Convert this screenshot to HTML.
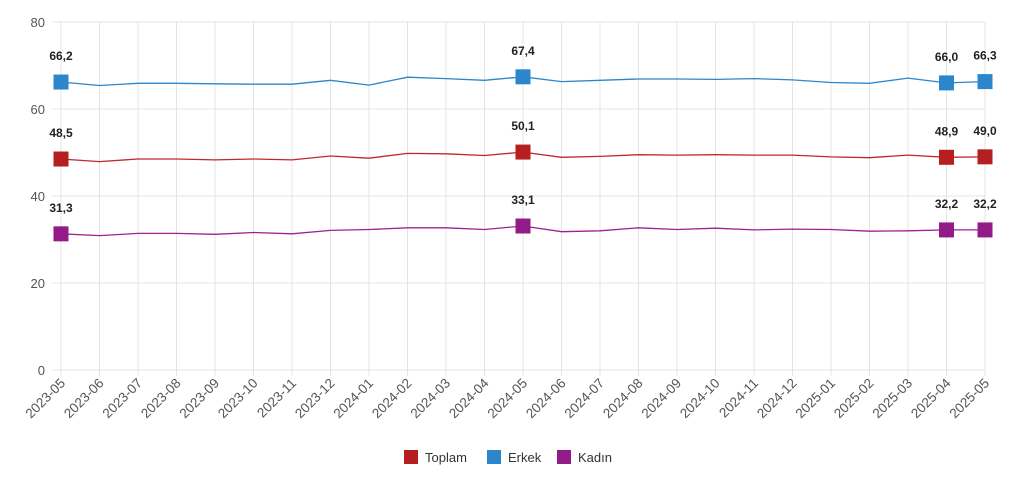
<!DOCTYPE html>
<html><head><meta charset="utf-8"><style>
html,body{margin:0;padding:0;background:#fff;width:1024px;height:481px;overflow:hidden}
svg text{font-family:"Liberation Sans",sans-serif}
</style></head><body>
<svg id="c" width="1024" height="481" xmlns="http://www.w3.org/2000/svg"></svg>
<script>
const s=document.getElementById('c');
const X=i=>61+i*38.5, Y=v=>370-4.35*v;
const labels=["2023-05","2023-06","2023-07","2023-08","2023-09","2023-10","2023-11","2023-12","2024-01","2024-02","2024-03","2024-04","2024-05","2024-06","2024-07","2024-08","2024-09","2024-10","2024-11","2024-12","2025-01","2025-02","2025-03","2025-04","2025-05"];
const E=[66.2,65.4,65.9,65.9,65.8,65.7,65.7,66.6,65.5,67.3,67.0,66.6,67.4,66.3,66.6,66.9,66.9,66.8,67.0,66.7,66.1,65.9,67.1,66.0,66.3];
const T=[48.5,47.9,48.5,48.5,48.3,48.5,48.3,49.2,48.7,49.8,49.7,49.3,50.1,48.9,49.1,49.5,49.4,49.5,49.4,49.4,49.0,48.8,49.4,48.9,49.0];
const K=[31.3,30.9,31.4,31.4,31.2,31.6,31.3,32.1,32.3,32.7,32.7,32.3,33.1,31.8,32.0,32.7,32.3,32.6,32.2,32.4,32.3,31.9,32.0,32.2,32.2];
let h='';
for(let v=0;v<=80;v+=20){h+=`<line x1="52" x2="985" y1="${Y(v)}" y2="${Y(v)}" stroke="#e4e4e4"/>`;
h+=`<text x="45" y="${Y(v)+5}" text-anchor="end" font-size="13" fill="#555">${v}</text>`;}
labels.forEach((l,i)=>{h+=`<line x1="${X(i)}" x2="${X(i)}" y1="22" y2="376" stroke="#e4e4e4"/>`;
h+=`<text transform="translate(${X(i)+5},384) rotate(-45)" text-anchor="end" font-size="13.5" fill="#555">${l}</text>`;});
const mk=[0,12,23,24];
[[E,"#2b86cb"],[T,"#c0282a","#b51f1f"],[K,"#9c2290","#931b87"]].forEach(([d,c,mc])=>{
h+=`<polyline fill="none" stroke="${c}" stroke-width="1.3" points="${d.map((v,i)=>X(i)+','+Y(v).toFixed(1)).join(' ')}"/>`;
mk.forEach(i=>{h+=`<rect x="${X(i)-7.5}" y="${Y(d[i])-7.5}" width="15" height="15" fill="${mc||c}"/>`;
h+=`<text x="${X(i)}" y="${Y(d[i])-22}" text-anchor="middle" font-size="12" font-weight="bold" fill="#222">${d[i].toFixed(1).replace('.',',')}</text>`;});
});
[["Toplam","#b51f1f",404],["Erkek","#2b86cb",487],["Kadın","#931b87",557]].forEach(([n,c,x])=>{
h+=`<rect x="${x}" y="450" width="14" height="14" fill="${c}"/><text x="${x+21}" y="462" font-size="13" fill="#333">${n}</text>`;});
s.innerHTML=h;
</script>
</body></html>
